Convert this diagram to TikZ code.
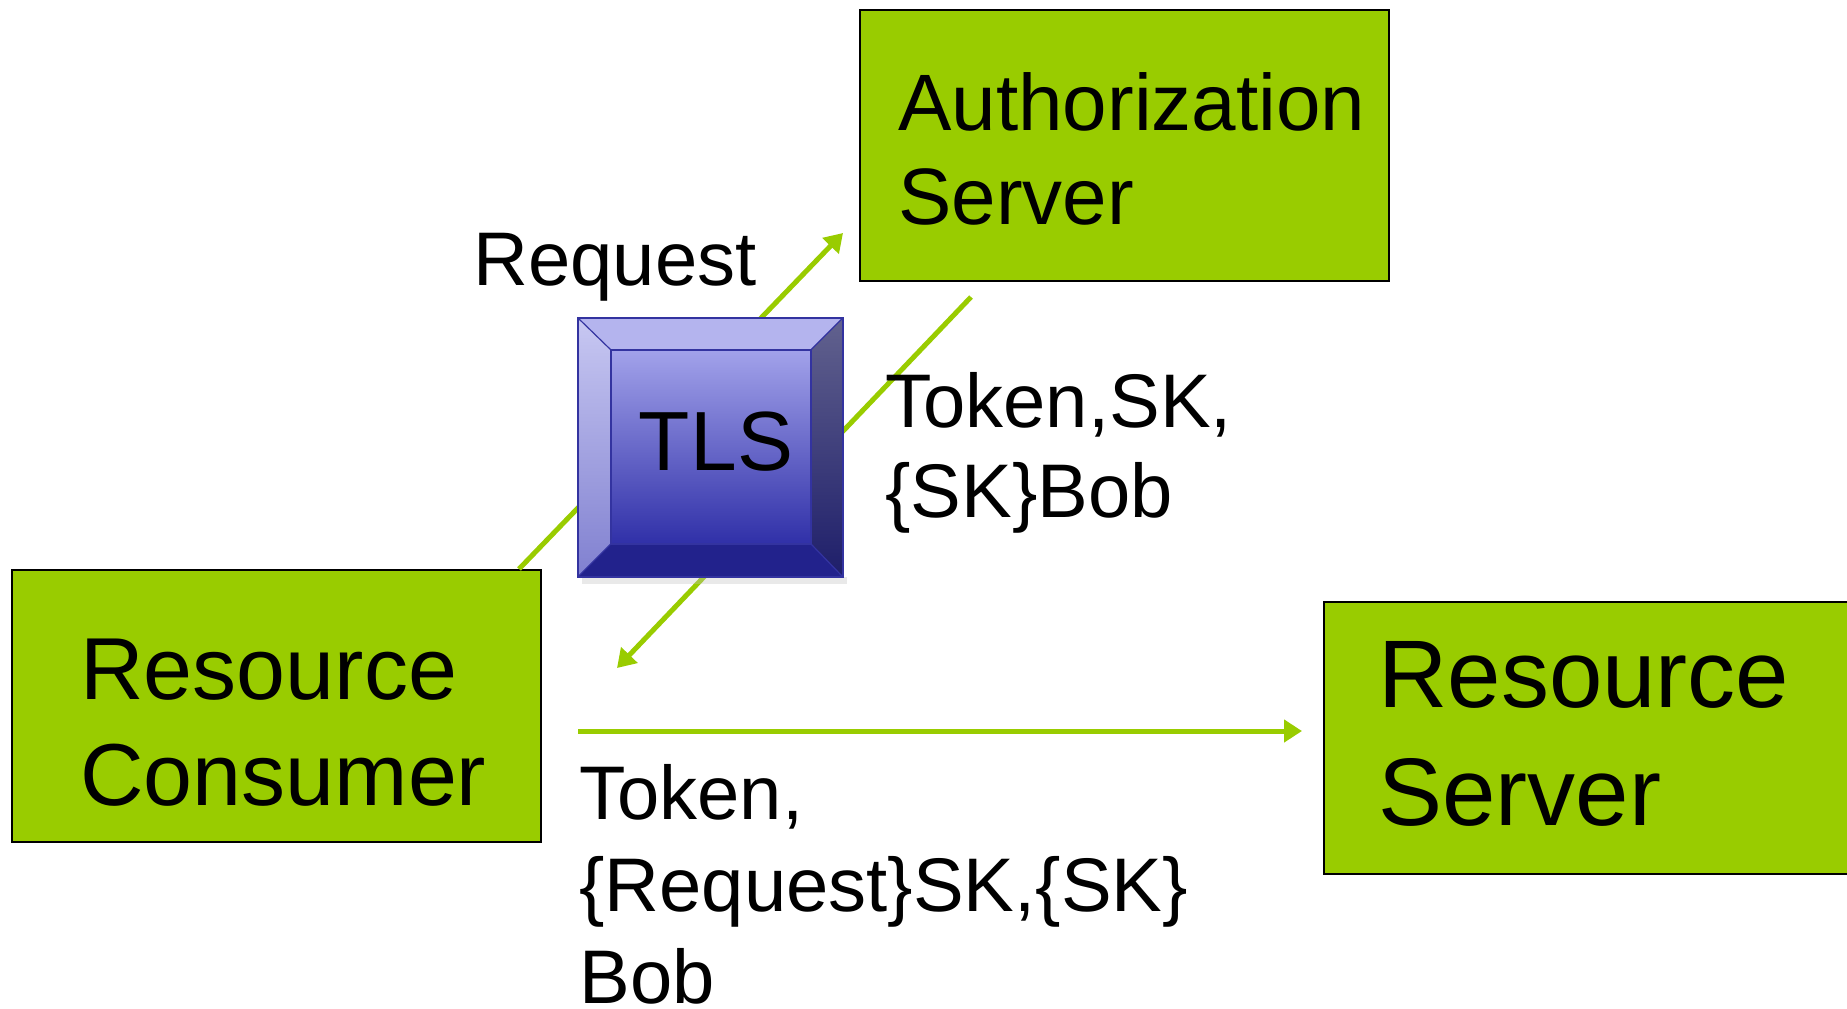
\documentclass[tikz,border=0pt]{standalone}
\usepackage{fontspec}
\setmainfont{Liberation Sans}
\usetikzlibrary{arrows.meta,calc}

\definecolor{leaf}{HTML}{99CC00}
\definecolor{keyedge}{HTML}{3333A0}
\definecolor{keytop}{HTML}{B4B4EE}
\definecolor{keyleftA}{HTML}{C8C8F2}
\definecolor{keyleftB}{HTML}{8080D0}
\definecolor{keyrightA}{HTML}{62628E}
\definecolor{keyrightB}{HTML}{1E1E6A}
\definecolor{keybottom}{HTML}{22228C}
\definecolor{keyfaceA}{HTML}{A2A2EA}
\definecolor{keyfaceB}{HTML}{3030A8}

% multi-line label: first baseline sits on the anchor point
\newcommand{\lines}[3]{\fontsize{#1}{#2}\selectfont\begin{tabular}[t]{@{}l@{}}#3\end{tabular}}

\tikzset{
  greenbox/.style={draw=black, line width=0.8pt, fill=leaf, rectangle,
    inner sep=0pt, anchor=north west},
  txt/.style={inner sep=0pt, anchor=base west, text=black},
  flow/.style={draw=leaf, line width=2.5pt,
    -{Triangle[length=9pt,width=11pt]}},
  keybox/.style={rectangle, inner sep=0pt, anchor=north west,
    minimum width=132pt, minimum height=129pt},
}

\begin{document}
\begin{tikzpicture}[x=0.5pt,y=-0.5pt]
\useasboundingbox (0,0) rectangle (1847,1008);
\clip (0,0) rectangle (1847,1008);

% the three parties
\node[greenbox, minimum width=264.5pt, minimum height=135.5pt] (auth) at (859,9) {};
\node[greenbox, minimum width=264.5pt, minimum height=136pt] (cons) at (11,569) {};
\node[greenbox, minimum width=275pt, minimum height=136pt] (serv) at (1323,601) {};

\node[txt] (authtext) at (898,130) {\lines{40}{47}{Authorization\\Server}};
\node[txt] (constext) at (80,699) {\lines{44}{53}{Resource\\Consumer}};
\node[txt] (servtext) at (1378,707) {\lines{48}{59}{Resource\\Server}};

% message flows
\coordinate (reqFrom) at (519,569);
\coordinate (reqTip) at (843,233);
\coordinate (tokFrom) at (971,297);
\coordinate (tokTip) at (617,668);
\coordinate (sendFrom) at (578,731);
\coordinate (sendTip) at (1302,731);

\draw[flow] (reqFrom) -- (reqTip);
\draw[flow] (tokFrom) -- (tokTip);
\draw[flow] (sendFrom) -- (sendTip);

% bevelled TLS key
\node[keybox] (tls) at (578,318) {};
\coordinate (iNW) at ($(tls.north west)+(33,32)$);
\coordinate (iNE) at ($(tls.north east)+(-32,32)$);
\coordinate (iSW) at ($(tls.south west)+(33,-33)$);
\coordinate (iSE) at ($(tls.south east)+(-32,-33)$);
\fill[black!25, opacity=0.35] ($(tls.south west)+(4,0)$) rectangle ($(tls.south east)+(4,7)$);
\shade[top color=keyfaceA, bottom color=keyfaceB] (iNW) rectangle (iSE);
\fill[keytop] (tls.north west) -- (tls.north east) -- (iNE) -- (iNW) -- cycle;
\shade[top color=keyleftA, bottom color=keyleftB] (tls.north west) -- (iNW) -- (iSW) -- (tls.south west) -- cycle;
\shade[top color=keyrightA, bottom color=keyrightB] (tls.north east) -- (tls.south east) -- (iSE) -- (iNE) -- cycle;
\fill[keybottom] (tls.south west) -- (iSW) -- (iSE) -- (tls.south east) -- cycle;
\draw[keyedge, line width=0.8pt] (tls.north west) rectangle (tls.south east);
\draw[keyedge, line width=0.8pt] (iNW) rectangle (iSE);
\draw[keyedge, line width=0.6pt] (tls.north west) -- (iNW) (tls.north east) -- (iNE)
  (tls.south west) -- (iSW) (tls.south east) -- (iSE);
\node[inner sep=0pt, anchor=base] (tlstext) at (716,470) {\fontsize{42}{48}\selectfont TLS};

% message labels
\node[txt] (reqtext) at (473,285) {\fontsize{38}{45}\selectfont Request};
\node[txt] (toktext) at (885,427) {\lines{38}{45}{Token,SK,\\\{SK\}Bob}};
\node[txt] (sendtext) at (579,819) {\lines{38}{46}{Token,\\\{Request\}SK,\{SK\}\\Bob}};
\end{tikzpicture}
\end{document}
